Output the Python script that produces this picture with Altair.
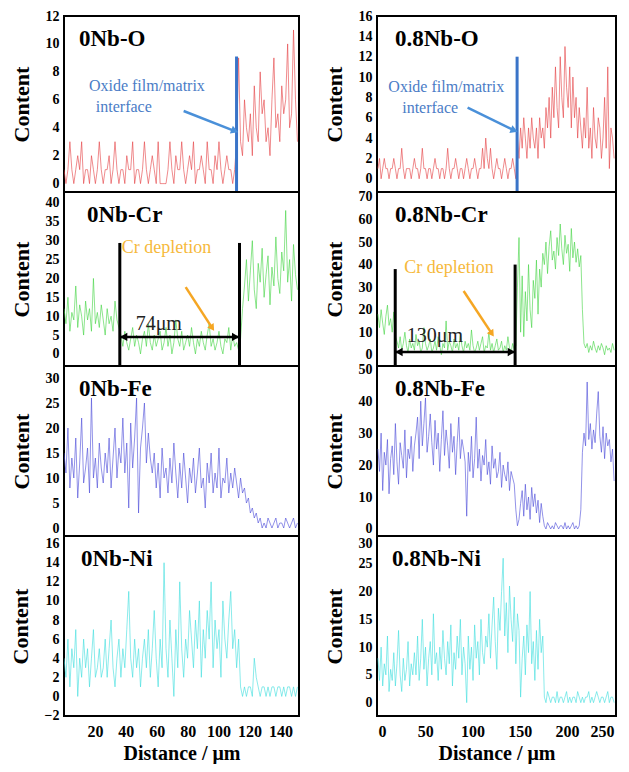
import altair as alt
import numpy as np
import pandas as pd

SERIF = "Liberation Serif"

# sampling span of the line scans (µm)
LEFT_SPAN = [0, 151]
RIGHT_SPAN = [0, 250]

# ---- 0Nb (left column) ----
O_0NB = [1,0,1,3,1,0,1,2,1,3, 0,1,1,0,2,1,0,1,3,1, 0,1,1,2,0,1,3,1,0,1,
         1,0,2,1,1,3,0,1,1,0, 1,3,1,0,1,2,1,0,3,0, 0,0,0,1,3,1,0,2,1,1,
         3,1,0,1,2,1,3,0,1,1, 2,1,0,3,1,1,0,2,1,3, 1,0,1,2,1,1,0,1,3,
         9,3,2,6,4,3,5,2,7,4, 3,8,5,6,3,4,2,6,9,4, 5,3,7,5,6,10,4,5,11,6, 3]
CR_0NB = [12,8,15,6,11,9,18,7,13,10,5,14,9,12,6,20,8,11,7,13,9,5,12,8,10,6,14,9,7,
          5,2,6,3,1,4,7,2,5,3,0,4,6,2,8,3,1,5,2,4,6,1,3,7,2,5,0,3,9,4,
          2,6,1,3,5,2,7,3,0,4,2,6,3,1,5,8,2,4,1,3,6,2,0,4,3,7,1,5,2,3, 1,4,
          12,18,25,14,22,30,17,12,24,19,28,15,21,26,13,23,18,31,20,16,27,22,38,19,25,14,29,21,17]
FE_0NB = [15,11,20,8,14,10,18,6,13,22,9,12,16,7,26,10,14,8,17,
          12,9,15,11,18,8,14,20,10,16,13,22,11,17,4,21,12,18,26,3,16,20,25,13,19,14,
          11,15,8,13,6,16,10,12,7,14,9,17,11,6,13,8,15,10,5,12,9,14,7,11,16,8,10,4,13,9,
          15,7,11,8,16,6,10,9,14,7,11,8,12,
          9,6,10,7,8,5,6,3,4,2,3,1,2,0,
          1,0,2,1,0,1,2,0,1,1,0,2,1,0,1,2,0,1]
NI_0NB = [4,2,6,1,5,3,7,0,4,2,6,3,5,1,4,7,2,3,5,2,
          3,6,2,5,8,3,1,4,6,2,5,3,7,11,4,2,6,3,5,1,4,
          6,3,7,2,5,9,4,1,6,3,14,5,2,8,4,0,7,3,12,5,2,6,4,9,
          6,3,8,5,10,2,7,4,9,6,12,3,8,5,7,2,10,6,4,8,11,5,7,3,6,
          1,0,1,0,1,1,0,4,2,1,0,1,1,0,1,0,1,1,0,1,1,0,1,0,1,1,0,1,0,1]

# ---- 0.8Nb (right column) ----
O_08NB = [1,2,0,1,2,1,1,0,1,1, 2,1,0,1,1,3,1,0,1,1, 1,0,1,2,1,1,0,1,3,1,
          1,0,1,1,0,1,2,1,1,0, 1,1,0,1,3,1,0,1,1,2, 1,0,1,1,0,1,2,1,0,1,
          1,2,1,0,1,1,3,1,4,2, 1,3,1,0,1,2,1,1,0,1, 2,1,0,1,1,2,1,0,
          4,2,5,3,6,4,2,5,3,6,4,3,5,2,6,4,5,3,7,
          5,8,4,9,6,11,7,5,12,8,6,13,9,7,11,5,10,6,8,4,7,
          5,3,6,4,9,3,5,2,7,4,3,6,5,2,4,8,3,11,1,5,4,2]
CR_08NB = [18,12,20,14,9,17,22,13,16,10,19,8,
           6,3,8,2,5,10,4,1,7,3,5,2,9,4,6,1,3,12,5,2,4,7,1,3,6,2,8,4,0,5,
           3,15,2,6,4,1,7,3,5,2,9,4,1,6,3,5,2,11,4,1,3,6,2,5,8,1,4,3,10,2,
           5,1,4,7,2,3,6,1,4,2,8,3,1,5,2,4,
           30,52,
           10,35,8,28,15,40,20,12,33,25,42,18,38,30,45,
           40,50,36,48,55,42,46,38,52,44,58,47,40,53,45,49,37,56,43,50,41,47,39,44,
           20,5,
           3,5,1,4,2,6,3,1,4,2,5,3,0,4,2,3,1,5,2]
FE_08NB = [25,18,30,12,24,20,28,11,22,26,17,33,21,14,27,23,19,31,16,25,22,29,18,26,
           30,35,22,40,26,33,41,24,29,36,
           27,20,34,25,30,18,28,37,23,31,26,19,33,24,29,17,27,35,22,28,25,
           21,4,24,18,29,16,22,35,19,25,15,23,20,28,17,21,14,26,19,22,16,18,24,13,20,17,15,21,12,18,16,
           14,6,1,3,
           8,12,4,14,6,10,3,13,7,11,5,9,2,8,4,
           1,0,2,1,0,1,0,2,1,0,1,1,0,2,0,1,0,1,2,0,1,0,1,
           6,24,30,26,46,28,33,25,31,27,36,43,29,24,32,22,30,26,28,21,25,15]
NI_08NB = [8,4,10,3,7,5,12,2,6,4,9,3,7,13,5,2,8,4,6,11,3,7,5,
           9,5,12,4,8,15,6,10,3,8,11,5,16,7,9,4,10,6,13,8,5,11,7,14,3,9,6,12,8,15,5,10,
           7,0,12,6,10,4,14,8,11,5,15,9,7,12,
           10,16,8,14,19,11,6,17,13,20,26,12,18,9,21,15,11,19,7,16,13,
           1,8,12,5,14,9,20,7,11,4,13,6,15,9,12,
           1,0,2,1,0,1,1,0,2,0,1,1,0,1,2,0,1,0,1,1,0,2,1,0,1,0,1,1,2,0,1,0,1,2,1,0,1,1,0,1,2,0,1,1,0]

PANEL_TITLES_L = ["0Nb-O", "0Nb-Cr", "0Nb-Fe", "0Nb-Ni"]
PANEL_TITLES_R = ["0.8Nb-O", "0.8Nb-Cr", "0.8Nb-Fe", "0.8Nb-Ni"]
COLORS = ["#e43c40", "#3fd43f", "#4848d8", "#3cdede"]

YDOM_L = [[-0.6, 12], [-3.2, 42.9], [-1.6, 32.4], [-2.05, 16.8]]
YDOM_R = [[-1.3, 16], [-5, 72.2], [-2.2, 51], [-2.4, 30]]
YTICK_L = [[0, 2, 4, 6, 8, 10, 12], [0, 5, 10, 15, 20, 25, 30, 35, 40],
           [0, 5, 10, 15, 20, 25, 30], [-2, 0, 2, 4, 6, 8, 10, 12, 14, 16]]
YTICK_R = [[0, 2, 4, 6, 8, 10, 12, 14, 16], [0, 10, 20, 30, 40, 50, 60, 70],
           [0, 10, 20, 30, 40, 50], [0, 5, 10, 15, 20, 25, 30]]
XDOM_L = [0, 152]
XDOM_R = [-1, 252]
XTICK_L = [20, 40, 60, 80, 100, 120, 140]
XTICK_R = [0, 50, 100, 150, 200, 250]

# annotations: [left, right]
INTERFACE_X = [111.6, 147.3]
INTERFACE_TOP = [9.1, 12.0]
OXIDE_TXT = [[16.1, 7.0], [11.0, 9.0]]
IFACE_TXT = [[20.6, 5.5], [25.7, 7.0]]
OX_ARROW = [[77.4, 5.2, 109.7, 3.8], [94.9, 7.0, 143.1, 4.8]]
DEPL_X = [[36.1, 113.5], [18.3, 145.2]]
DEPL_TOP = [[29.4, 29.4], [38.0, 40.0]]
DEPL_ARROW_Y = [4.5, 1.2]
DEPL_LABEL = ["74μm", "130μm"]
DEPL_LABEL_POS = [[61.3, 7.9], [60.3, 8.4]]
CRDEP_TXT = [[37.4, 28.0], [27.8, 38.5]]
OR_ARROW = [[78.7, 17.7, 95.5, 7.1], [90.7, 28.3, 120.0, 9.7]]

W_L, W_R = 235, 239
HEIGHTS = [176, 174, 170, 180]


def enc(xdom, ydom, yt, xaxis_vals, xflush, yflush):
    if xaxis_vals is not None:
        xaxis = alt.Axis(values=xaxis_vals, title="Distance / μm", ticks=False, grid=False,
                         domain=False, labelPadding=7, titlePadding=4, labelFlush=xflush,
                         labelFontSize=16, titleFontSize=20)
    else:
        xaxis = None
    yaxis = alt.Axis(values=yt, title="Content", ticks=False, grid=False, domain=False,
                     labelPadding=5, titlePadding=12, labelFontSize=14, titleFontSize=22,
                     labelFlush=yflush, labelOverlap=False)

    def X(f):
        return alt.X(f, type="quantitative",
                     scale=alt.Scale(domain=xdom, nice=False, zero=False), axis=xaxis)

    def Y(f):
        return alt.Y(f, type="quantitative",
                     scale=alt.Scale(domain=ydom, nice=False, zero=False), axis=yaxis)
    return X, Y


def panel(vals, span, xdom, ydom, yt, color, title, w, h, xvals, side, row, title_dx):
    X, Y = enc(xdom, ydom, yt, xvals, 3 if side == 1 else False,
               1 if (side == 1 and row == 3) else False)
    xs = np.linspace(span[0], span[1], len(vals))
    df = pd.DataFrame({"d": xs, "v": vals})
    layers = [
        alt.Chart(df).mark_line(color=color, strokeWidth=0.8, opacity=0.75, clip=True)
        .encode(x=X("d"), y=Y("v")),
        alt.Chart(pd.DataFrame({"t": [title]})).mark_text(
            align="left", baseline="top", font=SERIF, fontSize=23, fontWeight="bold",
            color="black").encode(x=alt.value(title_dx), y=alt.value(12), text="t:N"),
    ]
    if row == 0:
        k = side
        layers.append(alt.Chart(pd.DataFrame({"d": [INTERFACE_X[k]], "v": [INTERFACE_TOP[k]]}))
                      .mark_rule(color="#3a74c8", strokeWidth=3)
                      .encode(x=X("d"), y=Y("v"), y2=alt.value(h)))
        a = OX_ARROW[k]
        layers.append(alt.Chart(pd.DataFrame({"d": [a[0]], "v": [a[1]], "d2": [a[2]], "v2": [a[3]]}))
                      .mark_rule(color="#4a90d9", strokeWidth=2.5)
                      .encode(x=X("d"), y=Y("v"), x2="d2:Q", y2="v2:Q"))
        layers.append(alt.Chart(pd.DataFrame({"d": [a[2]], "v": [a[3]]}))
                      .mark_point(shape="triangle", filled=True, size=70, angle=111,
                                  color="#4a90d9", opacity=1)
                      .encode(x=X("d"), y=Y("v")))
        txt = pd.DataFrame({"d": [OXIDE_TXT[k][0], IFACE_TXT[k][0]],
                            "v": [OXIDE_TXT[k][1], IFACE_TXT[k][1]],
                            "t": ["Oxide film/matrix", "interface"]})
        layers.append(alt.Chart(txt).mark_text(align="left", baseline="middle", font=SERIF,
                                               fontSize=16, color="#4a7cc6")
                      .encode(x=X("d"), y=Y("v"), text="t:N"))
    if row == 1:
        k = side
        vl = pd.DataFrame({"d": DEPL_X[k], "v": DEPL_TOP[k]})
        layers.append(alt.Chart(vl).mark_rule(color="black", strokeWidth=3)
                      .encode(x=X("d"), y=Y("v"), y2=alt.value(h)))
        ay = DEPL_ARROW_Y[k]
        layers.append(alt.Chart(pd.DataFrame({"d": [DEPL_X[k][0]], "v": [ay], "d2": [DEPL_X[k][1]]}))
                      .mark_rule(color="black", strokeWidth=2.5)
                      .encode(x=X("d"), y=Y("v"), x2="d2:Q"))
        layers.append(alt.Chart(pd.DataFrame({"d": [DEPL_X[k][0] + (2.5 if k == 0 else 4)], "v": [ay]}))
                      .mark_point(shape="triangle-left", filled=True, size=70, color="black", opacity=1)
                      .encode(x=X("d"), y=Y("v")))
        layers.append(alt.Chart(pd.DataFrame({"d": [DEPL_X[k][1] - (2.5 if k == 0 else 4)], "v": [ay]}))
                      .mark_point(shape="triangle-right", filled=True, size=70, color="black", opacity=1)
                      .encode(x=X("d"), y=Y("v")))
        layers.append(alt.Chart(pd.DataFrame({"d": [DEPL_LABEL_POS[k][0]], "v": [DEPL_LABEL_POS[k][1]],
                                              "t": [DEPL_LABEL[k]]}))
                      .mark_text(align="center", baseline="middle", font=SERIF, fontSize=20, color="#222222")
                      .encode(x=X("d"), y=Y("v"), text="t:N"))
        layers.append(alt.Chart(pd.DataFrame({"d": [CRDEP_TXT[k][0]], "v": [CRDEP_TXT[k][1]],
                                              "t": ["Cr depletion"]}))
                      .mark_text(align="left", baseline="middle", font=SERIF, fontSize=18, color="#f6b93b")
                      .encode(x=X("d"), y=Y("v"), text="t:N"))
        a = OR_ARROW[k]
        layers.append(alt.Chart(pd.DataFrame({"d": [a[0]], "v": [a[1]], "d2": [a[2]], "v2": [a[3]]}))
                      .mark_rule(color="#f5a623", strokeWidth=2.5)
                      .encode(x=X("d"), y=Y("v"), x2="d2:Q", y2="v2:Q"))
        layers.append(alt.Chart(pd.DataFrame({"d": [a[2]], "v": [a[3]]}))
                      .mark_point(shape="triangle", filled=True, size=60, angle=146,
                                  color="#f5a623", opacity=1)
                      .encode(x=X("d"), y=Y("v")))
    return alt.layer(*layers).properties(width=w, height=h)


left_series = [O_0NB, CR_0NB, FE_0NB, NI_0NB]
right_series = [O_08NB, CR_08NB, FE_08NB, NI_08NB]
left_dx = [15, 23, 15, 17]
right_dx = [18, 18, 18, 15]

left_panels = [panel(left_series[r], LEFT_SPAN, XDOM_L, YDOM_L[r], YTICK_L[r], COLORS[r],
                     PANEL_TITLES_L[r], W_L, HEIGHTS[r], XTICK_L if r == 3 else None, 0, r, left_dx[r])
               for r in range(4)]
right_panels = [panel(right_series[r], RIGHT_SPAN, XDOM_R, YDOM_R[r], YTICK_R[r], COLORS[r],
                      PANEL_TITLES_R[r], W_R, HEIGHTS[r], XTICK_R if r == 3 else None, 1, r, right_dx[r])
                for r in range(4)]

col_l = alt.vconcat(*left_panels, spacing=0, bounds="flush")
col_r = alt.vconcat(*right_panels, spacing=0, bounds="flush")

chart = alt.hconcat(col_l, col_r, spacing=22).properties(
    padding={"left": 0, "top": 0, "right": 0, "bottom": 0}
).configure_view(stroke="black", strokeWidth=2).configure_axis(
    labelFont=SERIF, titleFont=SERIF, labelFontWeight="bold", titleFontWeight="bold",
    labelColor="black", titleColor="black"
)

chart.save("out.html", embed_options={"renderer": "svg", "actions": False})
